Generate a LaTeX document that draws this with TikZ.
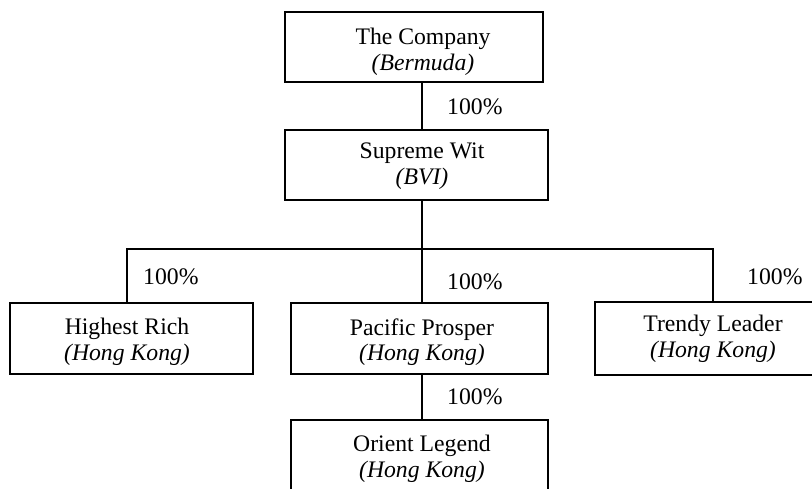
\documentclass[tikz,border=0pt]{standalone}
\usepackage{fontspec}
\setmainfont{Liberation Serif}
\begin{document}
\begin{tikzpicture}[x=1pt,y=-1pt,
  box/.style={draw=black,line width=1.2pt,inner sep=0pt,rectangle},
  txt/.style={inner sep=0pt,align=center,font=\fontsize{23.7}{25.5}\selectfont},
  pct/.style={inner sep=0pt,anchor=base west,font=\fontsize{23.7}{25.5}\selectfont},
  conn/.style={draw=black,line width=1.2pt}]
\useasboundingbox (0,0) rectangle (812,489);
\clip (0,0) rectangle (812,489);
% boxes
\node[box,minimum width=258pt,minimum height=70pt] (tc) at (414,47) {};
\node[box,minimum width=263pt,minimum height=70pt] (sw) at (416.5,165) {};
\node[box,minimum width=243pt,minimum height=71pt] (hr) at (131.5,338.5) {};
\node[box,minimum width=257pt,minimum height=71pt] (pp) at (419.5,338.5) {};
\node[box,minimum width=257pt,minimum height=73pt] (tl) at (723.5,338.5) {};
\node[box,minimum width=257pt,minimum height=80pt] (ol) at (419.5,460) {};
% texts
\node[txt] (tct) at (423,52) {The Company\\\textit{(Bermuda)}};
\node[txt] (swt) at (422,166) {Supreme Wit\\\textit{(BVI)}};
\node[txt] (hrt) at (127,342) {Highest Rich\\\textit{(Hong Kong)}};
\node[txt] (ppt) at (422,342) {Pacific Prosper\\\textit{(Hong Kong)}};
\node[txt] (tlt) at (713,339) {Trendy Leader\\\textit{(Hong Kong)}};
\node[txt] (olt) at (422,459) {Orient Legend\\\textit{(Hong Kong)}};
% junction
\coordinate (j) at (422,249);
% connectors
\draw[conn] (tc.south -| j) -- (sw.north -| j);
\draw[conn] (sw.south -| j) -- (j);
\draw[conn] (hr.north -| hrt) -- (hrt |- j) -- (tlt |- j) -- (tl.north -| tlt);
\draw[conn] (j) -- (pp.north -| j);
\draw[conn] (pp.south -| j) -- (ol.north -| j);
% percentages
\node[pct] (p1) at (447,115) {100\%};
\node[pct] (p2) at (143,285) {100\%};
\node[pct] (p3) at (447,290) {100\%};
\node[pct] (p4) at (747,285) {100\%};
\node[pct] (p5) at (447,404) {100\%};
\end{tikzpicture}
\end{document}
